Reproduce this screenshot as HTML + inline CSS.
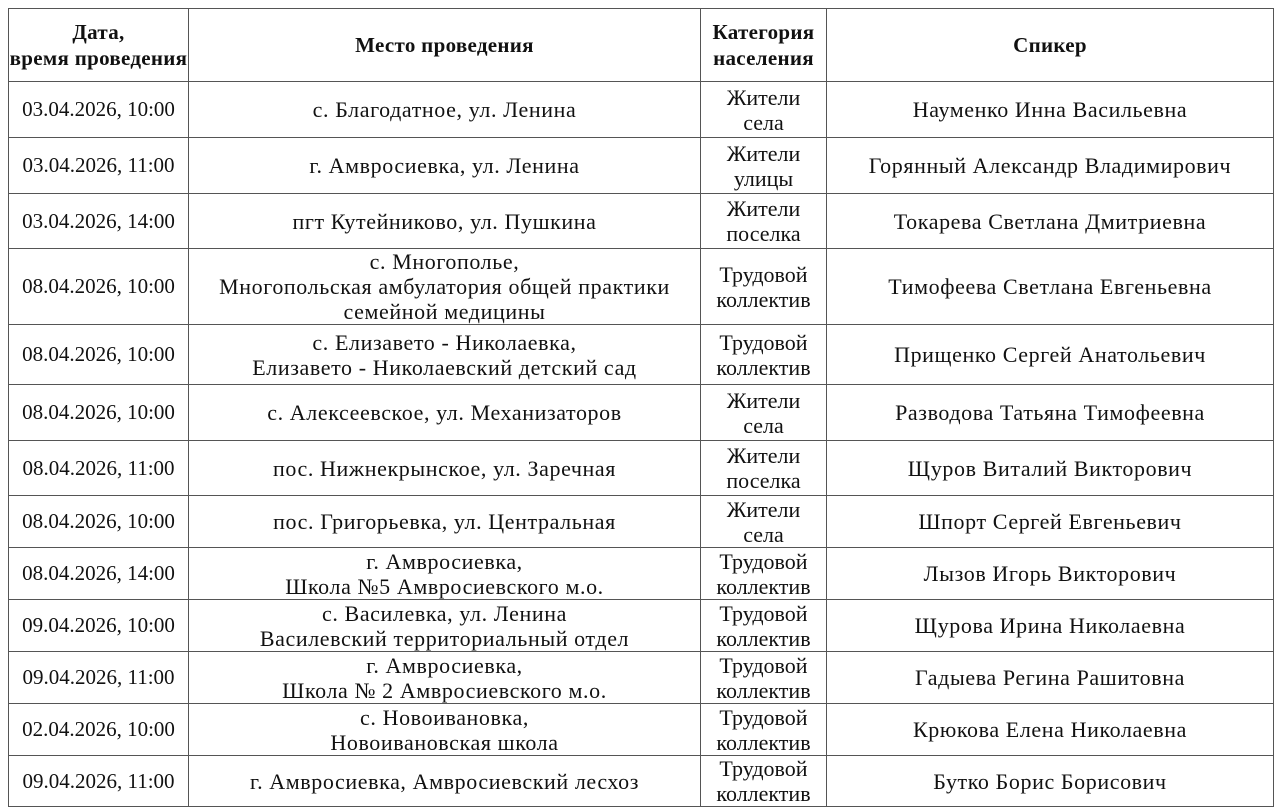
<!DOCTYPE html>
<html><head><meta charset="utf-8"><style>
body{margin:0;background:#fff;width:1280px;height:812px;overflow:hidden}
table{position:absolute;left:8px;top:8px;border-collapse:collapse;table-layout:fixed;font-family:"Liberation Serif",serif;font-size:21px;color:#111}
td,th{border:1.5px solid #555;text-align:center;vertical-align:middle;padding:0;line-height:25px;overflow:hidden;white-space:nowrap}
td+td{font-size:22px;letter-spacing:0.6px}
td+td+td{letter-spacing:0}
td+td+td+td{letter-spacing:0.6px}
th{font-weight:bold;font-size:21px;line-height:26px;letter-spacing:0.3px}
</style></head><body>
<table>
<colgroup><col style="width:180px"><col style="width:512px"><col style="width:126px"><col style="width:447px"></colgroup>
<tr style="height:73px"><th>Дата,<br>время проведения</th><th>Место проведения</th><th>Категория<br>населения</th><th>Спикер</th></tr>
<tr style="height:56px"><td>03.04.2026, 10:00</td><td>с. Благодатное, ул. Ленина</td><td>Жители<br>села</td><td>Науменко Инна Васильевна</td></tr>
<tr style="height:56px"><td>03.04.2026, 11:00</td><td>г. Амвросиевка, ул. Ленина</td><td>Жители<br>улицы</td><td>Горянный Александр Владимирович</td></tr>
<tr style="height:55px"><td>03.04.2026, 14:00</td><td>пгт Кутейниково, ул. Пушкина</td><td>Жители<br>поселка</td><td>Токарева Светлана Дмитриевна</td></tr>
<tr style="height:76px"><td>08.04.2026, 10:00</td><td>с. Многополье,<br>Многопольская амбулатория общей практики<br>семейной медицины</td><td>Трудовой<br>коллектив</td><td>Тимофеева Светлана Евгеньевна</td></tr>
<tr style="height:60px"><td>08.04.2026, 10:00</td><td>с. Елизавето - Николаевка,<br>Елизавето - Николаевский детский сад</td><td>Трудовой<br>коллектив</td><td>Прищенко Сергей Анатольевич</td></tr>
<tr style="height:56px"><td>08.04.2026, 10:00</td><td>с. Алексеевское, ул. Механизаторов</td><td>Жители<br>села</td><td>Разводова Татьяна Тимофеевна</td></tr>
<tr style="height:55px"><td>08.04.2026, 11:00</td><td>пос. Нижнекрынское, ул. Заречная</td><td>Жители<br>поселка</td><td>Щуров Виталий Викторович</td></tr>
<tr style="height:52px"><td>08.04.2026, 10:00</td><td>пос. Григорьевка, ул. Центральная</td><td>Жители<br>села</td><td>Шпорт Сергей Евгеньевич</td></tr>
<tr style="height:52px"><td>08.04.2026, 14:00</td><td>г. Амвросиевка,<br>Школа №5 Амвросиевского м.о.</td><td>Трудовой<br>коллектив</td><td>Лызов Игорь Викторович</td></tr>
<tr style="height:52px"><td>09.04.2026, 10:00</td><td>с. Василевка, ул. Ленина<br>Василевский территориальный отдел</td><td>Трудовой<br>коллектив</td><td>Щурова Ирина Николаевна</td></tr>
<tr style="height:52px"><td>09.04.2026, 11:00</td><td>г. Амвросиевка,<br>Школа № 2 Амвросиевского м.о.</td><td>Трудовой<br>коллектив</td><td>Гадыева Регина Рашитовна</td></tr>
<tr style="height:52px"><td>02.04.2026, 10:00</td><td>с. Новоивановка,<br>Новоивановская школа</td><td>Трудовой<br>коллектив</td><td>Крюкова Елена Николаевна</td></tr>
<tr style="height:50px"><td>09.04.2026, 11:00</td><td>г. Амвросиевка, Амвросиевский лесхоз</td><td>Трудовой<br>коллектив</td><td>Бутко Борис Борисович</td></tr>
</table>
</body></html>
